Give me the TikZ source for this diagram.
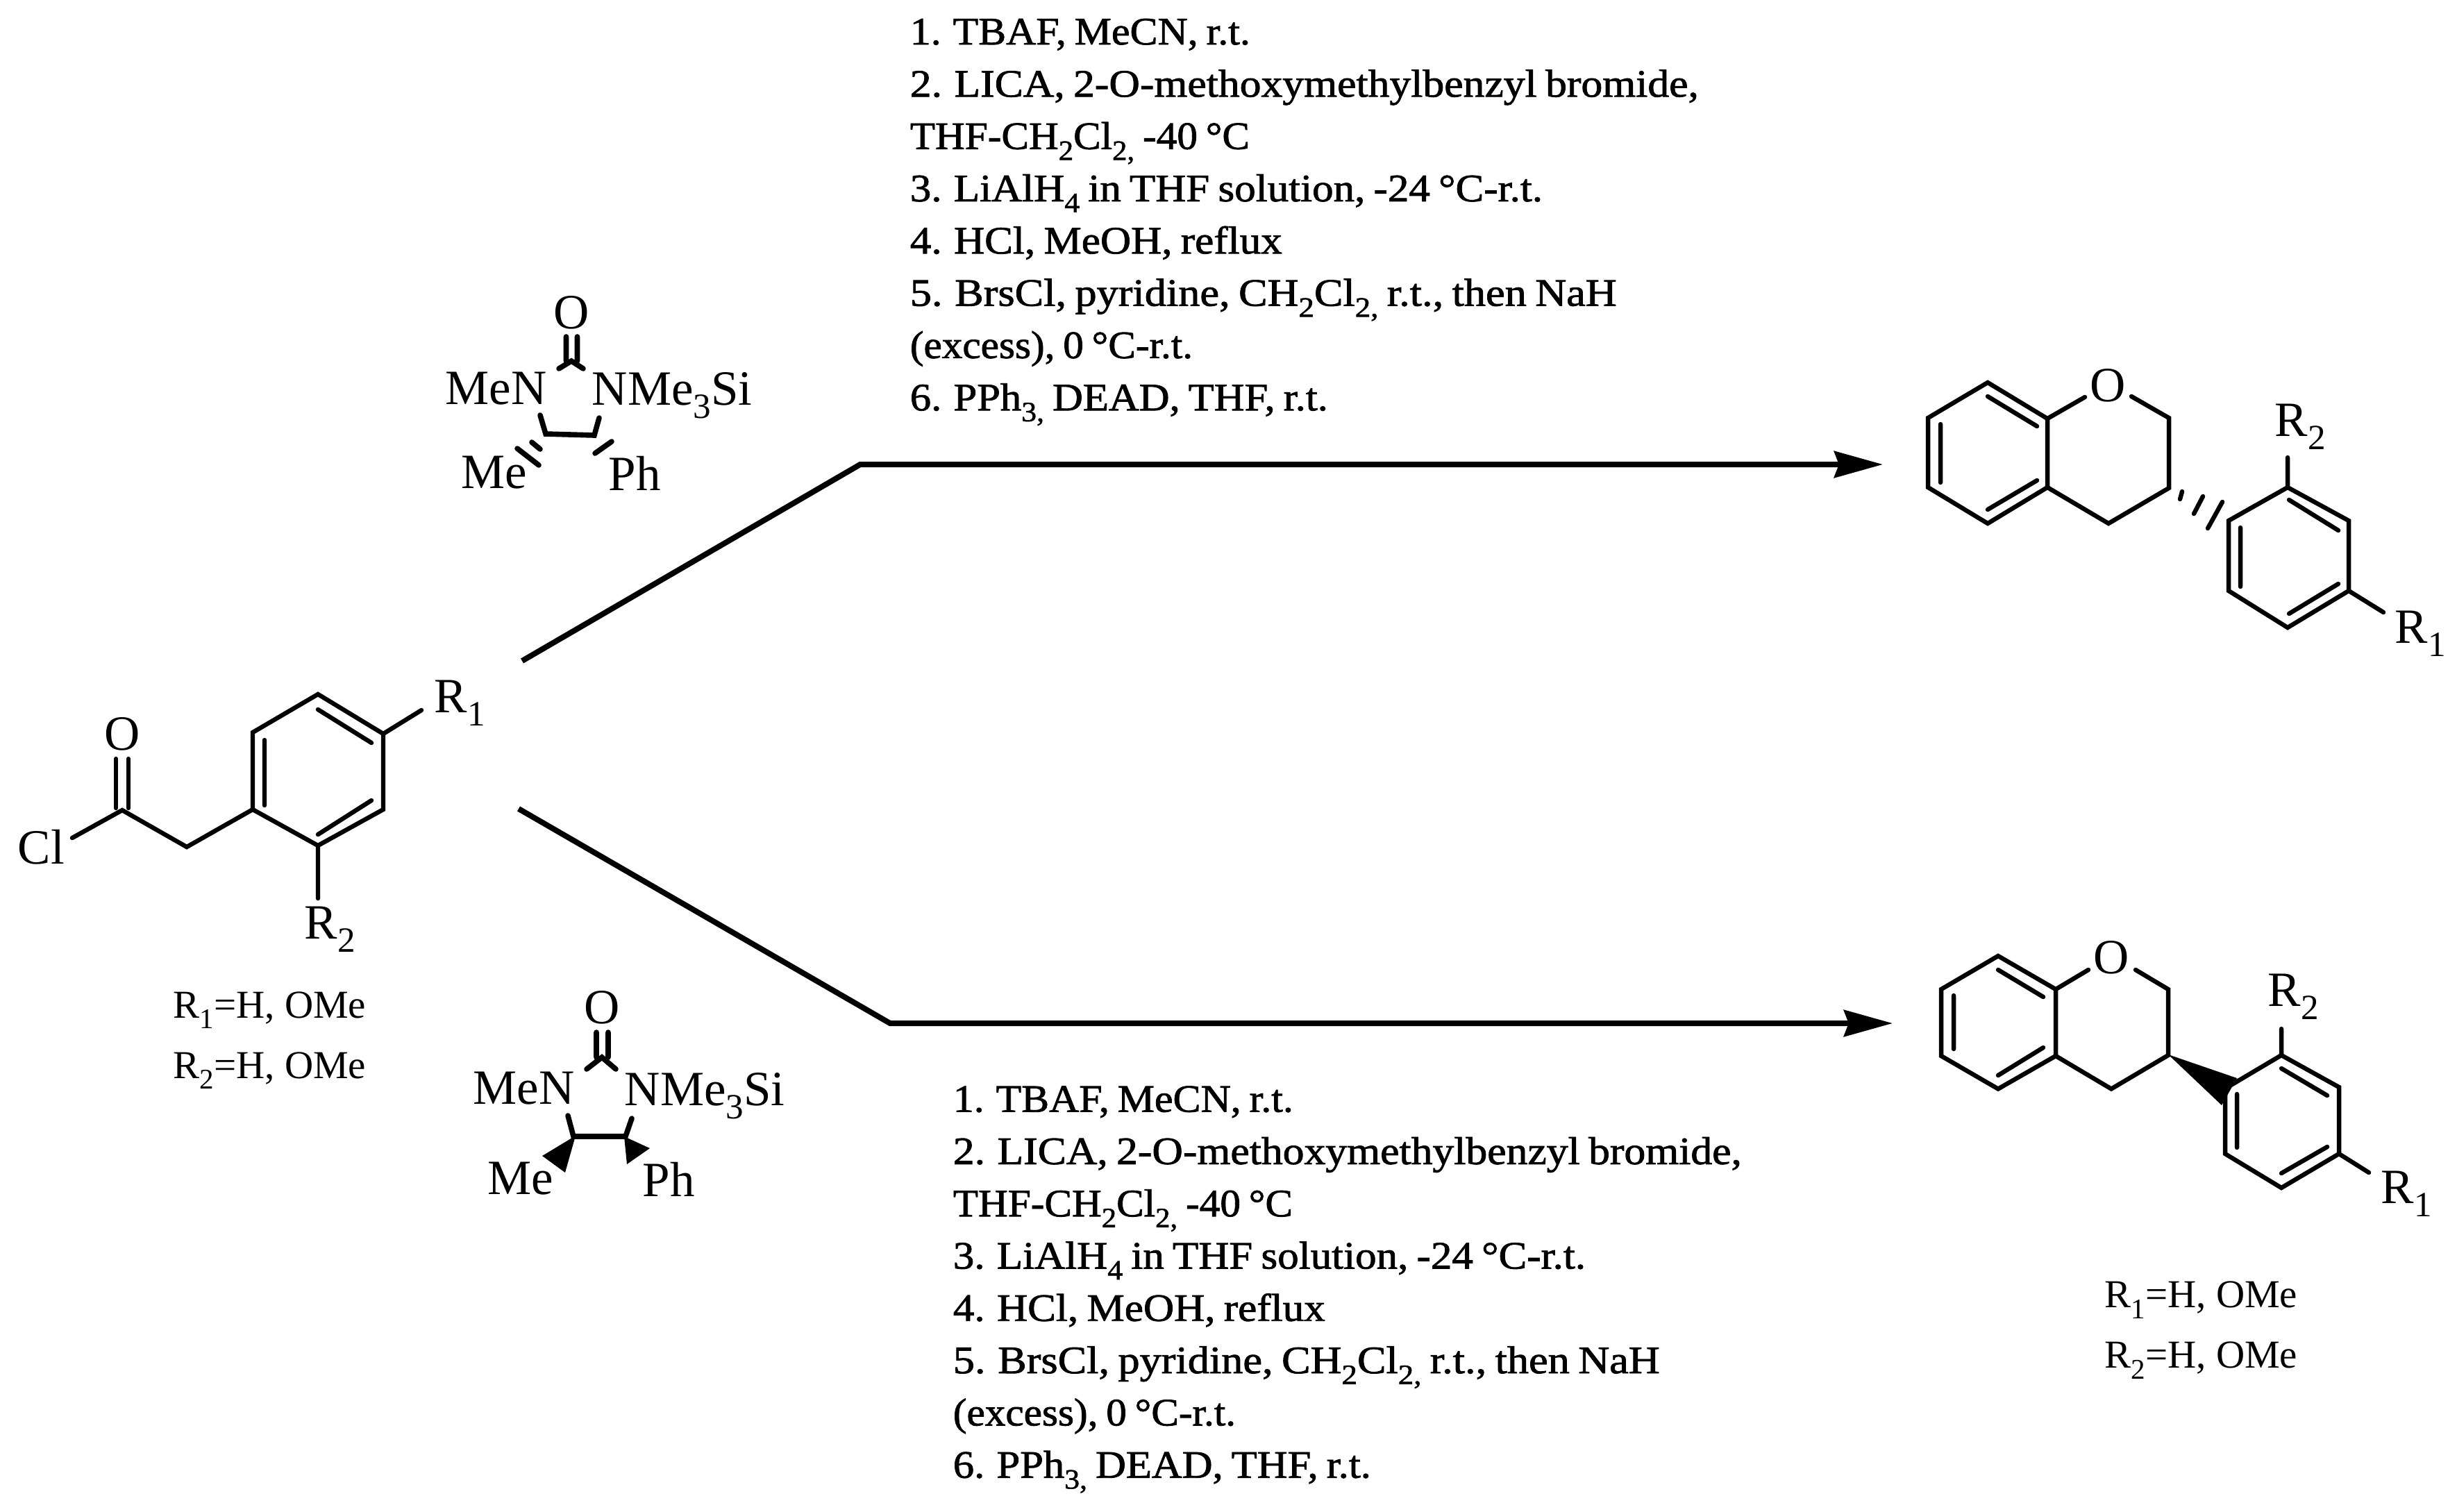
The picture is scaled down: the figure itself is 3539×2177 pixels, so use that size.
\documentclass[tikz,border=0pt]{standalone}
\usepackage{fontspec}
\usetikzlibrary{arrows.meta}
\setmainfont{Liberation Serif}
\newfontfamily\rgfont[FakeBold=1.5,FakeStretch=1.1,WordSpace=0.8]{Liberation Serif}
\newcommand\subs[1]{\raisebox{-0.28em}{\scalebox{0.72}{#1}}}
\newcommand\rl[2]{\resizebox{#1}{\height}{#2}}
\tikzset{
  bond/.style={line width=1.6pt,line cap=round,line join=miter},
  thickbond/.style={line width=1.9pt,line cap=round,line join=miter},
  wedge/.style={fill=black,draw=none},
  route/.style={line width=2pt,-{Stealth[length=17.5pt,width=9.5pt,inset=1.7pt]},line join=miter},
  chem/.style={inner sep=0pt,anchor=base west,font=\fontsize{17.75pt}{20pt}\selectfont},
  note/.style={inner sep=0pt,anchor=base west,font=\fontsize{14.25pt}{17pt}\selectfont},
  rg/.style={inner sep=0pt,anchor=base west,font=\fontsize{14pt}{17pt}\rgfont},
}
\newcommand\reagents[3]{%
  \node[rg] (#1l1) at (#2,#3) {\rl{122.5pt}{1. TBAF, MeCN, r.t.}};
  \node[rg] (#1l2) at (#2,{#3+75.3}) {\rl{284pt}{2. LICA, 2-O-methoxymethylbenzyl bromide,}};
  \node[rg] (#1l3) at (#2,{#3+150.6}) {\rl{122.3pt}{THF-CH\subs{2}Cl\subs{2,} -40 °C}};
  \node[rg] (#1l4) at (#2,{#3+225.9}) {\rl{227.8pt}{3. LiAlH\subs{4} in THF solution, -24 °C-r.t.}};
  \node[rg] (#1l5) at (#2,{#3+301.2}) {\rl{134pt}{4. HCl, MeOH, reflux}};
  \node[rg] (#1l6) at (#2,{#3+376.5}) {\rl{254.5pt}{5. BrsCl, pyridine, CH\subs{2}Cl\subs{2,} r.t., then NaH}};
  \node[rg] (#1l7) at (#2,{#3+451.8}) {\rl{101.8pt}{(excess), 0 °C-r.t.}};
  \node[rg] (#1l8) at (#2,{#3+527.1}) {\rl{150.5pt}{6. PPh\subs{3,} DEAD, THF, r.t.}};
}
\begin{document}
\begin{tikzpicture}[x=0.25pt,y=-0.25pt]
\useasboundingbox (0,0) rectangle (3539,2177);
% ---------- starting material
\foreach \n/\x/\y in {a1/458/1000,a2/552/1057,a3/552/1166,a4/458/1218,a5/364/1166,a6/364/1055,
  ar1/607/1023,ar2/458/1294,ach/269/1220,acc/176/1167,acl/104/1207,
  ao1/167/1093,ao2/185/1093,ac1/167/1164,ac2/185/1164,
  ai1/458/1022,ai2/535/1070,ai3/535/1153,ai4/458/1202,ai5/381/1160,ai6/381/1066}
  \coordinate (\n) at (\x,\y);
\draw[bond] (a1)--(a2)--(a3)--(a4)--(a5)--(a6)--cycle;
\draw[bond] (ai1)--(ai2) (ai3)--(ai4) (ai5)--(ai6);
\draw[bond] (a2)--(ar1) (a4)--(ar2) (a5)--(ach)--(acc)--(acl);
\draw[bond] (ao1)--(ac1) (ao2)--(ac2);
\node[chem] (sO) at (150,1080) {O};
\node[chem] (sCl) at (25,1244) {Cl};
\node[chem] (sR1) at (625,1026) {R\subs{1}};
\node[chem] (sR2) at (438,1352) {R\subs{2}};
\node[note] (sn1) at (249,1466) {R\subs{1}=H, OMe};
\node[note] (sn2) at (249,1553) {R\subs{2}=H, OMe};
% ---------- auxiliary, top
\foreach \n/\x/\y in {ba1/815.5/485,ba2/831.5/485,bb1/815.5/520,bb2/831.5/520,bc/823/520,bl/805/531,br/840/531,
  bd1/778/598,bd2/786/625,bd3/856/627,bd4/863/602,
  bh1/766/637,bh2/778/647,bh3/745/646,bh4/776/670,bp1/857/653,bp2/881/636}
  \coordinate (\n) at (\x,\y);
\draw[thickbond] (ba1)--(bb1) (ba2)--(bb2) (bl)--(bc)--(br);
\draw[thickbond] (bd1)--(bd2)--(bd3)--(bd4);
\draw[thickbond] (bh1)--(bh2) (bh3)--(bh4) (bp1)--(bp2);
\node[chem] (bO) at (797,473) {O};
\node[chem] (bMeN) at (641,582) {MeN};
\node[chem] (bNMe) at (852,583) {NMe\subs{3}Si};
\node[chem] (bMe) at (664,703) {Me};
\node[chem] (bPh) at (876,706) {Ph};
% ---------- auxiliary, bottom
\foreach \n/\x/\y in {ca1/859/1487,ca2/876/1487,cb1/859/1523,cb2/876/1523,cc/867/1523,cl/845/1540,cr/887/1540,
  cd1/818/1607,cd2/826/1637,cd3/901/1637,cd4/910/1611,
  cw1/829/1636,cw2/781/1665,cw3/814/1689,cv1/899/1637,cv2/936/1654,cv3/903/1677}
  \coordinate (\n) at (\x,\y);
\draw[thickbond] (ca1)--(cb1) (ca2)--(cb2) (cl)--(cc)--(cr);
\draw[thickbond] (cd1)--(cd2)--(cd3)--(cd4);
\fill[wedge] (cw1)--(cw2)--(cw3)--cycle;
\fill[wedge] (cv1)--(cv2)--(cv3)--cycle;
\node[chem] (cO) at (841,1474) {O};
\node[chem] (cMeN) at (681,1590) {MeN};
\node[chem] (cNMe) at (899,1592) {NMe\subs{3}Si};
\node[chem] (cMe) at (702,1720) {Me};
\node[chem] (cPh) at (925,1723) {Ph};
% ---------- routes
\foreach \n/\x/\y in {t0/752/952,t1/1239/669,t2/2712/669,u0/747/1165,u1/1282/1474,u2/2726/1474}
  \coordinate (\n) at (\x,\y);
\draw[route] (t0)--(t1)--(t2);
\draw[route] (u0)--(u1)--(u2);
\reagents{ta}{1310}{64}
\reagents{ub}{1372}{1601.5}
% ---------- product, top
\foreach \n/\x/\y in {p1/2863/551,p2/2949/603,p3/2949/702,p4/2863/754,p5/2777/702,p6/2777/602,
  pi1/2863/571,pi2/2934/614,pi3/2934/692,pi4/2863/734,pi5/2795/695,pi6/2795/611,
  po1/3003/572,po2/3070/571,po3/3124/602,po4/3124/703,po5/3037/754,
  ph1/3143/708,ph2/3140/719,ph3/3173/715,ph4/3160/740,ph5/3201/723,ph6/3180/761,
  q1/3295/702,q2/3383/750,q3/3383/851,q4/3295/904,q5/3210/851,q6/3210/750,
  qi1/3297/720,qi2/3368/764,qi3/3368/841,qi4/3297/884,qi5/3227/845,qi6/3227/760,
  qr2/3295/659,qr1/3433/882}
  \coordinate (\n) at (\x,\y);
\draw[bond] (p1)--(p2)--(p3)--(p4)--(p5)--(p6)--cycle;
\draw[bond] (pi1)--(pi2) (pi3)--(pi4) (pi5)--(pi6);
\draw[bond] (p2)--(po1) (po2)--(po3)--(po4)--(po5)--(p3);
\draw[bond] (ph1)--(ph2) (ph3)--(ph4) (ph5)--(ph6);
\draw[bond] (q1)--(q2)--(q3)--(q4)--(q5)--(q6)--cycle;
\draw[bond] (qi1)--(qi2) (qi3)--(qi4) (qi5)--(qi6);
\draw[bond] (q1)--(qr2) (q3)--(qr1);
\node[chem] (pO) at (3010,578) {O};
\node[chem] (pR2) at (3276,628) {R\subs{2}};
\node[chem] (pR1) at (3449,926) {R\subs{1}};
% ---------- product, bottom
\foreach \n/\x/\y in {v1/2878/1377,v2/2961/1425,v3/2961/1521,v4/2878/1568.5,v5/2796/1521,v6/2796/1425,
  vi1/2878/1397,vi2/2943/1436,vi3/2943/1509,vi4/2878/1549,vi5/2814/1511,vi6/2814/1434,
  vo1/3008/1397,vo2/3076/1397,vo3/3123/1425,vo4/3123/1520,vo5/3041/1568.5,
  vw1/3123/1519,vw2/3222/1553,vw3/3200/1592,
  w1/3286/1520,w2/3369/1566,w3/3369/1662,w4/3286/1711,w5/3205/1662,w6/3205/1568,
  wi1/3286/1539,wi2/3352/1578,wi3/3352/1652,wi4/3286/1690,wi5/3222/1653,wi6/3222/1576,
  wr2/3286/1482,wr1/3412/1689}
  \coordinate (\n) at (\x,\y);
\draw[bond] (v1)--(v2)--(v3)--(v4)--(v5)--(v6)--cycle;
\draw[bond] (vi1)--(vi2) (vi3)--(vi4) (vi5)--(vi6);
\draw[bond] (v2)--(vo1) (vo2)--(vo3)--(vo4)--(vo5)--(v3);
\fill[wedge] (vw1)--(vw2)--(vw3)--cycle;
\draw[bond] (w1)--(w2)--(w3)--(w4)--(w5)--(w6)--cycle;
\draw[bond] (wi1)--(wi2) (wi3)--(wi4) (wi5)--(wi6);
\draw[bond] (w1)--(wr2) (w3)--(wr1);
\node[chem] (vO) at (3015,1402) {O};
\node[chem] (vR2) at (3266,1449) {R\subs{2}};
\node[chem] (vR1) at (3429,1733) {R\subs{1}};
\node[note] (vn1) at (3031,1883) {R\subs{1}=H, OMe};
\node[note] (vn2) at (3031,1970) {R\subs{2}=H, OMe};
\end{tikzpicture}
\end{document}
